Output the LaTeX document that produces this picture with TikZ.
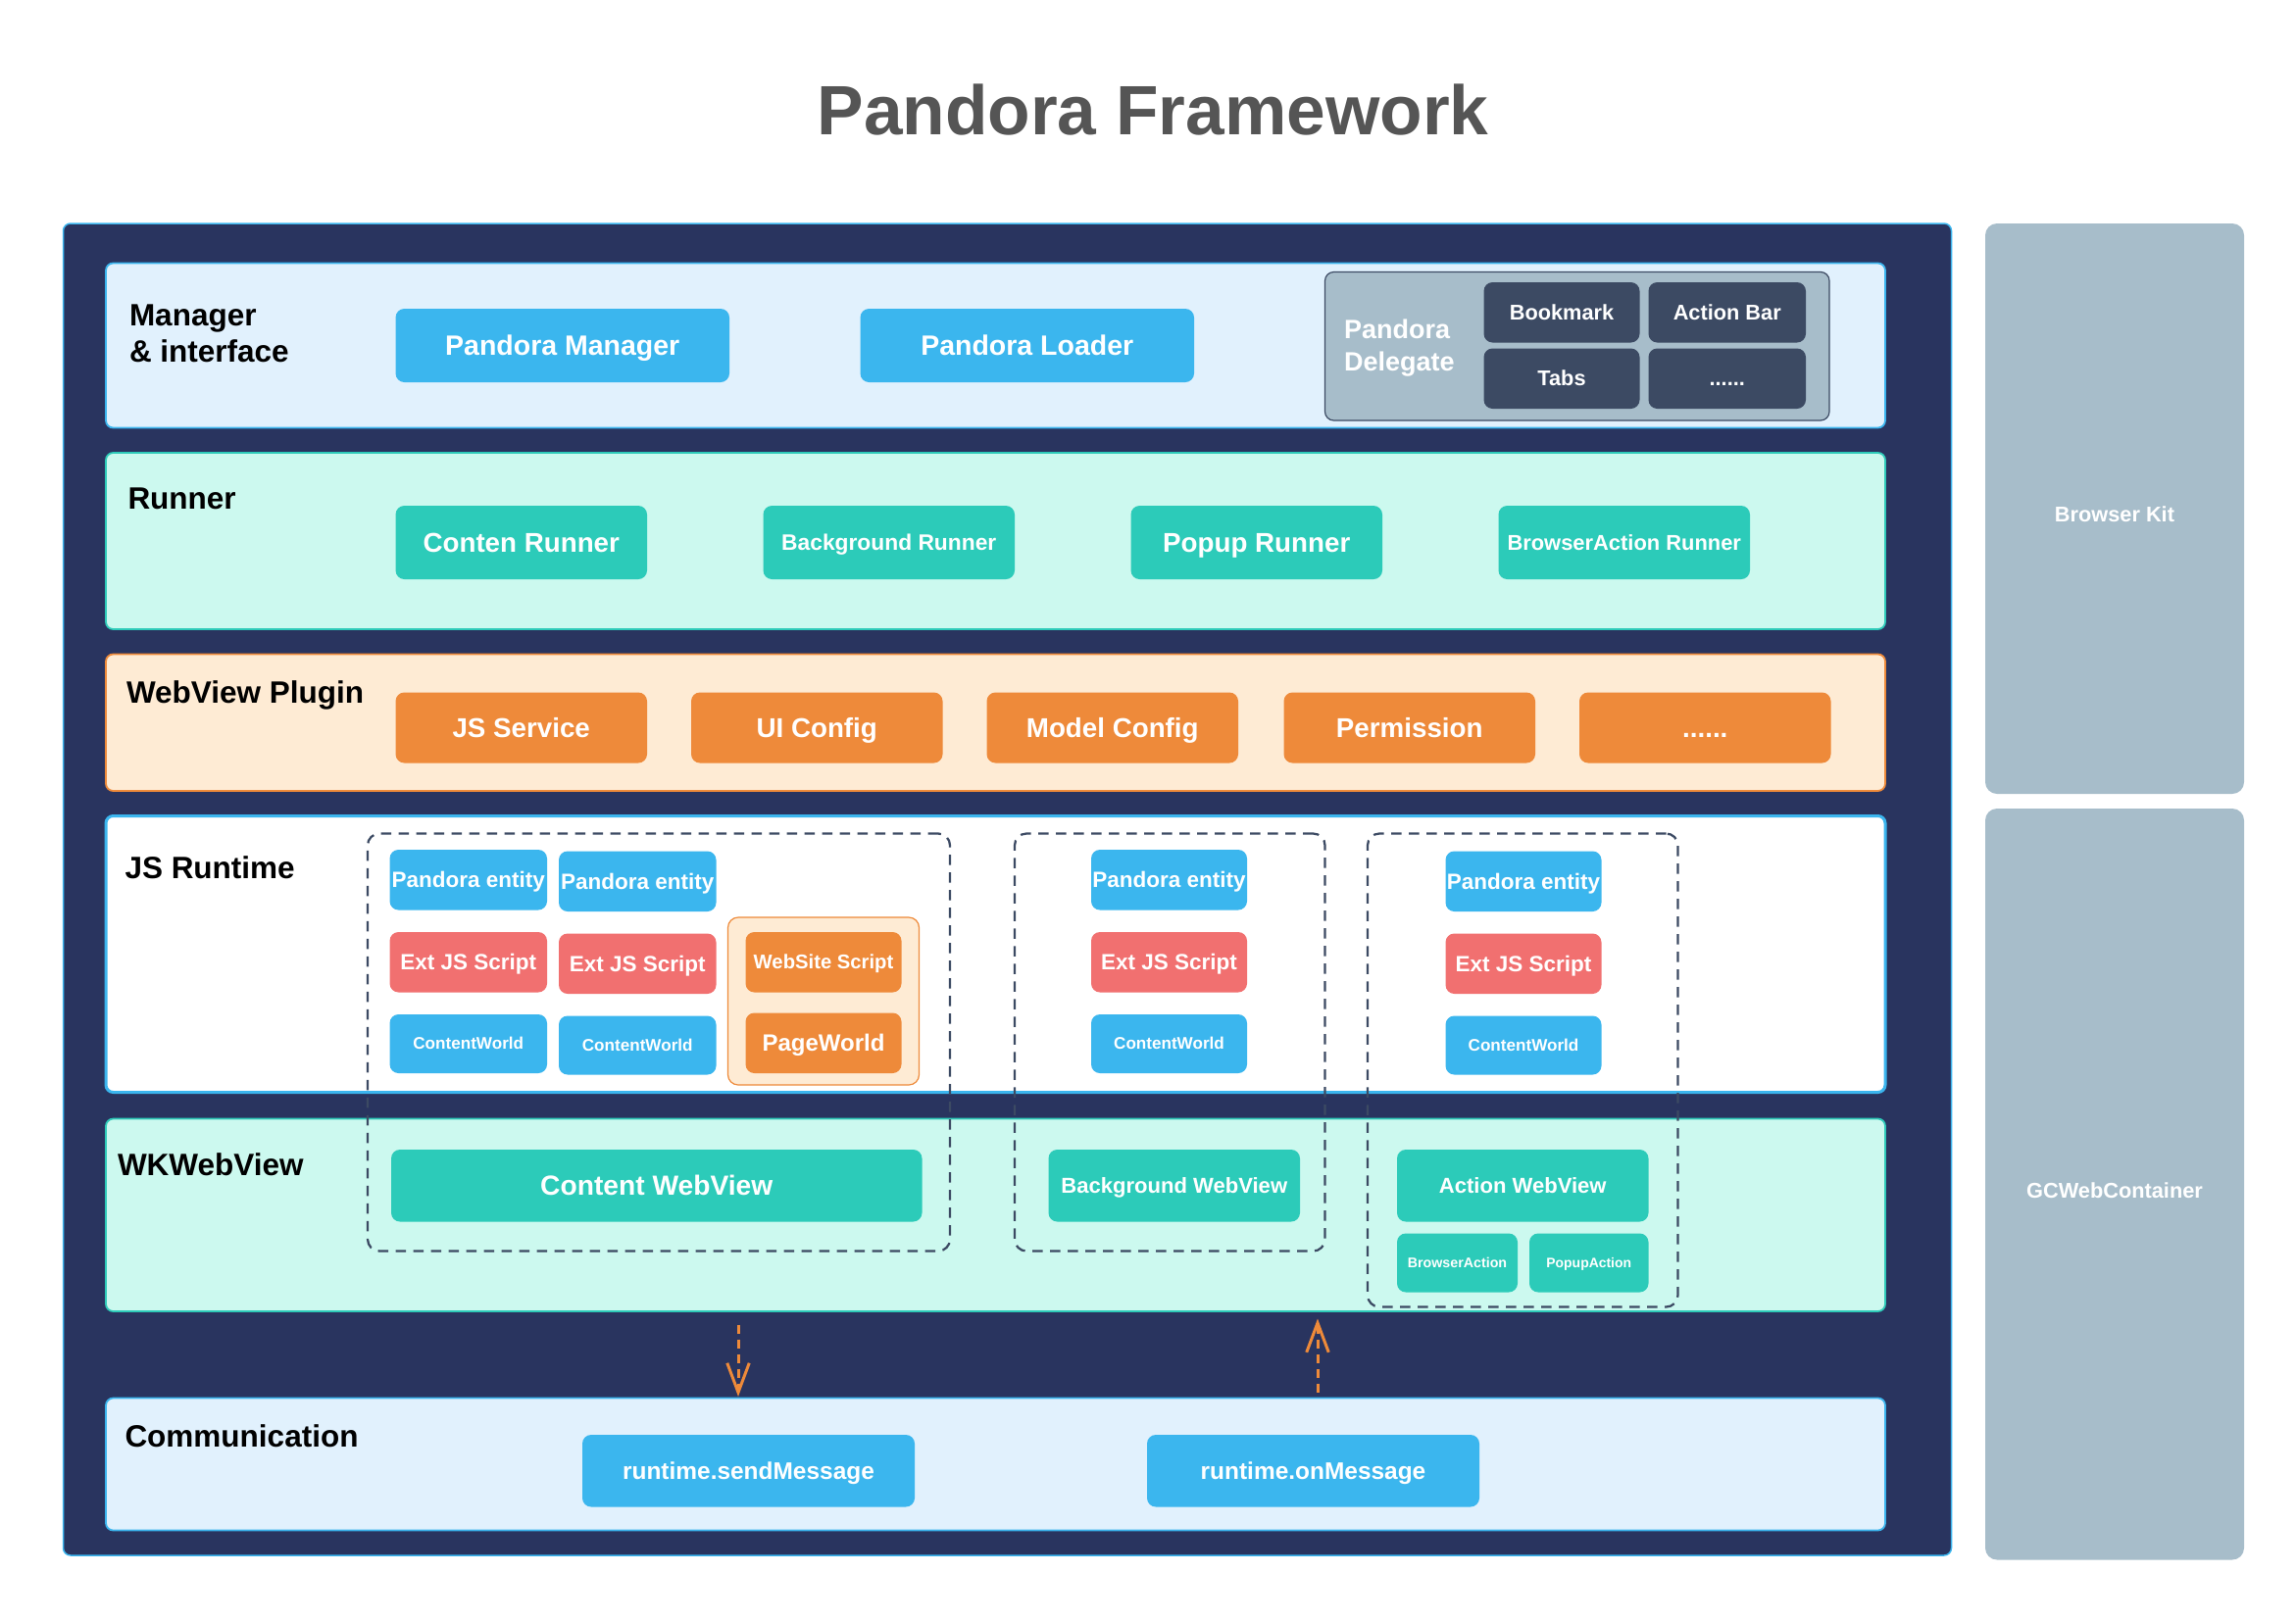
\documentclass[tikz,border=0pt]{standalone}
\usepackage{fontspec}
\setmainfont{Liberation Sans}
\usetikzlibrary{arrows.meta}
\definecolor{navy}{HTML}{29345F}
\definecolor{lblue}{HTML}{3BB5EE}
\definecolor{lfill}{HTML}{E1F1FD}
\definecolor{tealb}{HTML}{2ECBB9}
\definecolor{tfill}{HTML}{CCF9EF}
\definecolor{oranb}{HTML}{EE8A3A}
\definecolor{ofill}{HTML}{FEEBD4}
\definecolor{boxblue}{HTML}{3BB6EE}
\definecolor{boxteal}{HTML}{2CCBB9}
\definecolor{boxorange}{HTML}{EE8A3A}
\definecolor{boxred}{HTML}{F17070}
\definecolor{greyp}{HTML}{A7BDCA}
\definecolor{darkb}{HTML}{3C4A63}
\definecolor{titlegray}{HTML}{555555}
\newcommand\rbox[7]{\node[#2, minimum width={(#5-#3)*1pt}, minimum height={(#6-#4)*1pt}] (#1) at ({(#3+#5)/2},{(#4+#6)/2}) {\smash{#7}\vphantom{H}};}
\newcommand\fsz[1]{\fontsize{#1}{#1}\selectfont}
\begin{document}
\begin{tikzpicture}[x=1pt,y=-1pt,
  every node/.style={inner sep=0pt, outer sep=0pt},
  layer/.style={draw, line width=1.2pt, rounded corners=5pt},
  bx/.style={rounded corners=6pt, text=white, font=\bfseries},
  bluebx/.style={bx, fill=boxblue},
  tealbx/.style={bx, fill=boxteal},
  orgbx/.style={bx, fill=boxorange},
  redbx/.style={bx, fill=boxred},
  darkbx/.style={bx, fill=darkb},
  lab/.style={anchor=west, align=left, text=black, font=\bfseries\fontsize{21}{25}\selectfont},
  grp/.style={draw=darkb, line width=1.5pt, dash pattern=on 7pt off 5pt, rounded corners=8pt},
  flow/.style={draw=oranb, line width=2pt, dash pattern=on 6pt off 4pt, -{Straight Barb[length=20pt,width=15pt,line width=2pt]}}
]
\useasboundingbox (0,0) rectangle (1561.33,1103.33);

\node[font=\bfseries\fontsize{47.5}{56}\selectfont, text=titlegray] (title) at (784,75) {Pandora Framework};

% main panels
\rbox{panel}{fill=navy, draw=lblue, line width=1pt, rounded corners=5pt}{43}{152}{1327}{1058}{}
\rbox{bkit}{fill=greyp, rounded corners=8pt}{1350}{152}{1526}{540}{}
\rbox{gcw}{fill=greyp, rounded corners=8pt}{1350}{550}{1526}{1061}{}
\node[text=white, font=\bfseries\fsz{14.5}] (bkitt) at (1438,350) {Browser Kit};
\node[text=white, font=\bfseries\fsz{14.5}] (gcwt) at (1438,810) {GCWebContainer};

% layers
\rbox{mgr}{layer, draw=lblue, fill=lfill}{72}{179}{1282}{291}{}
\rbox{run}{layer, draw=tealb, fill=tfill}{72}{308}{1282}{428}{}
\rbox{plg}{layer, draw=oranb, fill=ofill}{72}{445}{1282}{538}{}
\rbox{jsr}{layer, draw=lblue, fill=white, line width=2pt}{72}{555}{1282}{743}{}
\rbox{wkw}{layer, draw=tealb, fill=tfill}{72}{761}{1282}{892}{}
\rbox{com}{layer, draw=lblue, fill=lfill}{72}{951}{1282}{1041}{}

% layer labels
\node[lab] (lmgr) at (88,227) {Manager\\\& interface};
\node[lab] (lrun) at (87,339) {Runner};
\node[lab] (lplg) at (86,473) {WebView Plugin};
\node[lab] (ljsr) at (85,590) {JS Runtime};
\node[lab] (lwkw) at (80,792) {WKWebView};
\node[lab] (lcom) at (85,977) {Communication};

% manager row
\rbox{pman}{bluebx, font=\bfseries\fsz{19}}{269}{210}{496}{260}{Pandora Manager}
\rbox{pload}{bluebx, font=\bfseries\fsz{19}}{585}{210}{812}{260}{Pandora Loader}
\rbox{dlg}{fill=greyp, draw=darkb, line width=0.8pt, rounded corners=6pt}{901}{185}{1244}{286}{}
\node[anchor=west, align=left, text=white, font=\bfseries\fontsize{18}{22}\selectfont] (dlgt) at (914,237) {Pandora\\Delegate};
\rbox{bmk}{darkbx, font=\bfseries\fsz{14.5}}{1009}{192}{1115}{233}{Bookmark}
\rbox{abar}{darkbx, font=\bfseries\fsz{14.5}}{1121}{192}{1228}{233}{Action Bar}
\rbox{tabs}{darkbx, font=\bfseries\fsz{14.5}}{1009}{237}{1115}{278}{Tabs}
\rbox{dmore}{darkbx, font=\bfseries\fsz{14.5}}{1121}{237}{1228}{278}{......}

% runner row
\rbox{crun}{tealbx, font=\bfseries\fsz{18.5}}{269}{344}{440}{394}{Conten Runner}
\rbox{brun}{tealbx, font=\bfseries\fsz{15.2}}{519}{344}{690}{394}{Background Runner}
\rbox{prun}{tealbx, font=\bfseries\fsz{18.5}}{769}{344}{940}{394}{Popup Runner}
\rbox{barun}{tealbx, font=\bfseries\fsz{14.6}}{1019}{344}{1190}{394}{BrowserAction Runner}

% plugin row
\rbox{jss}{orgbx, font=\bfseries\fsz{18.5}}{269}{471}{440}{519}{JS Service}
\rbox{uic}{orgbx, font=\bfseries\fsz{18.5}}{470}{471}{641}{519}{UI Config}
\rbox{mdc}{orgbx, font=\bfseries\fsz{18.5}}{671}{471}{842}{519}{Model Config}
\rbox{perm}{orgbx, font=\bfseries\fsz{18.5}}{873}{471}{1044}{519}{Permission}
\rbox{pmore}{orgbx, font=\bfseries\fsz{18.5}}{1074}{471}{1245}{519}{......}

% dashed groups
\rbox{g1}{grp}{250}{567}{646}{851}{}
\rbox{g2}{grp}{690}{567}{901}{851}{}
\rbox{g3}{grp}{930}{567}{1141}{889}{}

% group 1
\rbox{pe1}{bluebx, font=\bfseries\fsz{15}}{265}{578}{372}{619}{Pandora entity}
\rbox{pe2}{bluebx, font=\bfseries\fsz{15}}{380}{579}{487}{620}{Pandora entity}
\rbox{ex1}{redbx, font=\bfseries\fsz{15}}{265}{634}{372}{675}{Ext JS Script}
\rbox{ex2}{redbx, font=\bfseries\fsz{15}}{380}{635}{487}{676}{Ext JS Script}
\rbox{cw1}{bluebx, font=\bfseries\fsz{11.4}}{265}{690}{372}{730}{ContentWorld}
\rbox{cw2}{bluebx, font=\bfseries\fsz{11.4}}{380}{691}{487}{731}{ContentWorld}
\rbox{pwg}{fill=ofill, draw=oranb, line width=0.8pt, rounded corners=7pt}{495}{624}{625}{738}{}
\rbox{wss}{orgbx, font=\bfseries\fsz{13.5}}{507}{634}{613}{675}{WebSite Script}
\rbox{pgw}{orgbx, font=\bfseries\fsz{16}}{507}{689}{613}{730}{PageWorld}
\rbox{cwv}{tealbx, font=\bfseries\fsz{18.8}}{266}{782}{627}{831}{Content WebView}

% group 2
\rbox{pe3}{bluebx, font=\bfseries\fsz{15}}{742}{578}{848}{619}{Pandora entity}
\rbox{ex3}{redbx, font=\bfseries\fsz{15}}{742}{634}{848}{675}{Ext JS Script}
\rbox{cw3}{bluebx, font=\bfseries\fsz{11.4}}{742}{690}{848}{730}{ContentWorld}
\rbox{bwv}{tealbx, font=\bfseries\fsz{14.7}}{713}{782}{884}{831}{Background WebView}

% group 3
\rbox{pe4}{bluebx, font=\bfseries\fsz{15}}{983}{579}{1089}{620}{Pandora entity}
\rbox{ex4}{redbx, font=\bfseries\fsz{15}}{983}{635}{1089}{676}{Ext JS Script}
\rbox{cw4}{bluebx, font=\bfseries\fsz{11.4}}{983}{691}{1089}{731}{ContentWorld}
\rbox{awv}{tealbx, font=\bfseries\fsz{14.7}}{950}{782}{1121}{831}{Action WebView}
\rbox{bac}{tealbx, font=\bfseries\fsz{9.5}}{950}{839}{1032}{879}{BrowserAction}
\rbox{pac}{tealbx, font=\bfseries\fsz{9.3}}{1040}{839}{1121}{879}{PopupAction}

% communication
\rbox{send}{bluebx, font=\bfseries\fsz{16.3}}{396}{976}{622}{1025}{runtime.sendMessage}
\rbox{onmsg}{bluebx, font=\bfseries\fsz{16.3}}{780}{976}{1006}{1025}{runtime.onMessage}

% arrows
\coordinate (a1s) at (502,901);
\coordinate (a1e) at (502,950);
\coordinate (a2s) at (896,947);
\coordinate (a2e) at (896,897);
\draw[flow] (a1s) -- (a1e);
\draw[flow] (a2s) -- (a2e);
\end{tikzpicture}
\end{document}
